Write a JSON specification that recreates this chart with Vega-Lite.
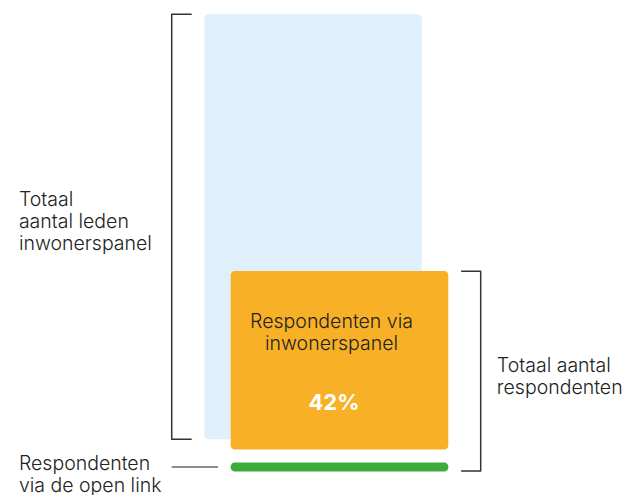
{
  "$schema": "https://vega.github.io/schema/vega-lite/v6.json",
  "autosize": {"type": "none"},
  "width": 628,
  "height": 495,
  "padding": 0,
  "background": "white",
  "config": {"view": {"stroke": null}},
  "datasets": {
    "bars": [
      {"series": "Totaal aantal leden inwonerspanel", "x": 48.07, "x2": 99.22, "y": 0, "y2": 100},
      {"series": "Respondenten via inwonerspanel", "x": 54.28, "x2": 105.48, "y": -2.4, "y2": 39.6},
      {"series": "Respondenten via de open link", "x": 54.28, "x2": 105.48, "y": -7.6, "y2": -5.5}
    ],
    "brackets": [
      {"bracket": "left", "order": 1, "x": 45.1, "y": 100},
      {"bracket": "left", "order": 2, "x": 40.4, "y": 100},
      {"bracket": "left", "order": 3, "x": 40.4, "y": 0},
      {"bracket": "left", "order": 4, "x": 45.1, "y": 0},
      {"bracket": "right", "order": 1, "x": 108.5, "y": 39.5},
      {"bracket": "right", "order": 2, "x": 113.1, "y": 39.5},
      {"bracket": "right", "order": 3, "x": 113.1, "y": -7.5},
      {"bracket": "right", "order": 4, "x": 108.5, "y": -7.5}
    ],
    "pointer": [
      {"x": 40.4, "x2": 51.3, "y": -6.55}
    ],
    "labels": [
      {"label": "Totaal\naantal leden\ninwonerspanel", "x": 4.45, "y": 54.9},
      {"label": "Totaal aantal\nrespondenten", "x": 116.9, "y": 15.9}
    ],
    "bottom": [
      {"label": "Respondenten\nvia de open link", "x": 4.45, "y": -7.2}
    ],
    "inner": [
      {"label": "Respondenten via\ninwonerspanel", "x": 78.0, "y": 26.2}
    ],
    "pct": [
      {"label": "42%", "x": 78.59, "y": 6.87}
    ]
  },
  "layer": [
    {
      "data": {"name": "bars"},
      "mark": {"type": "rect", "cornerRadius": 4},
      "encoding": {
        "x": {"field": "x", "type": "quantitative", "scale": {"domain": [0, 147.76], "nice": false, "zero": false}, "axis": null},
        "x2": {"field": "x2"},
        "y": {"field": "y", "type": "quantitative", "scale": {"domain": [-13.13, 103.34], "nice": false, "zero": false}, "axis": null},
        "y2": {"field": "y2"},
        "color": {
          "field": "series",
          "type": "nominal",
          "scale": {
            "domain": ["Totaal aantal leden inwonerspanel", "Respondenten via inwonerspanel", "Respondenten via de open link"],
            "range": ["#dff0fc", "#f8b026", "#3dab3a"]
          },
          "legend": null
        }
      }
    },
    {
      "data": {"name": "brackets"},
      "mark": {"type": "line", "color": "#333333", "strokeWidth": 1.5, "strokeJoin": "round", "strokeCap": "butt"},
      "encoding": {
        "x": {"field": "x", "type": "quantitative"},
        "y": {"field": "y", "type": "quantitative"},
        "detail": {"field": "bracket"},
        "order": {"field": "order"}
      }
    },
    {
      "data": {"name": "pointer"},
      "mark": {"type": "rule", "color": "#666666", "strokeWidth": 1.5},
      "encoding": {
        "x": {"field": "x", "type": "quantitative"},
        "x2": {"field": "x2"},
        "y": {"field": "y", "type": "quantitative"}
      }
    },
    {
      "data": {"name": "labels"},
      "mark": {"type": "text", "align": "left", "baseline": "alphabetic", "font": "Inter", "fontSize": 19.5, "fontWeight": 300, "lineHeight": 22.3, "lineBreak": "\n", "color": "#222222"},
      "encoding": {
        "x": {"field": "x", "type": "quantitative"},
        "y": {"field": "y", "type": "quantitative"},
        "text": {"field": "label"}
      }
    },
    {
      "data": {"name": "bottom"},
      "mark": {"type": "text", "align": "left", "baseline": "alphabetic", "font": "Inter", "fontSize": 19.5, "fontWeight": 300, "lineHeight": 22, "lineBreak": "\n", "color": "#222222"},
      "encoding": {
        "x": {"field": "x", "type": "quantitative"},
        "y": {"field": "y", "type": "quantitative"},
        "text": {"field": "label"}
      }
    },
    {
      "data": {"name": "inner"},
      "mark": {"type": "text", "align": "center", "baseline": "alphabetic", "font": "Inter", "fontSize": 19.5, "fontWeight": 300, "lineHeight": 22.3, "lineBreak": "\n", "color": "#222222"},
      "encoding": {
        "x": {"field": "x", "type": "quantitative"},
        "y": {"field": "y", "type": "quantitative"},
        "text": {"field": "label"}
      }
    },
    {
      "data": {"name": "pct"},
      "mark": {"type": "text", "align": "center", "baseline": "alphabetic", "font": "Inter", "fontSize": 22, "fontWeight": "bold", "color": "#ffffff", "letterSpacing": 0.5},
      "encoding": {
        "x": {"field": "x", "type": "quantitative"},
        "y": {"field": "y", "type": "quantitative"},
        "text": {"field": "label"}
      }
    }
  ]
}
